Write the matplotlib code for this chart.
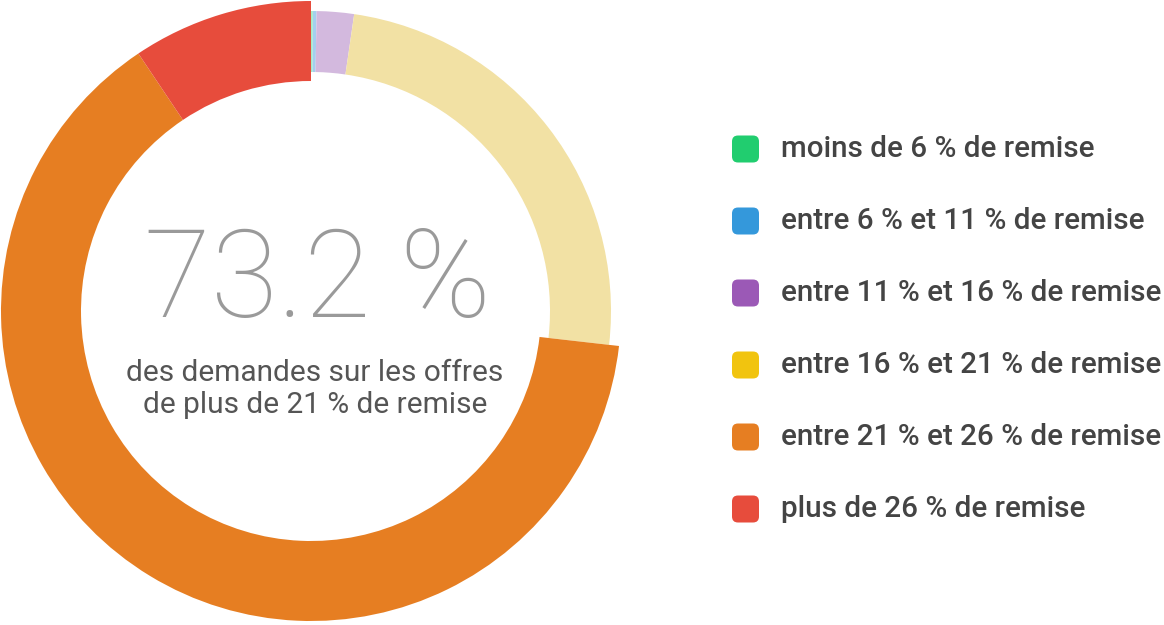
import matplotlib.pyplot as plt
from matplotlib.patches import FancyBboxPatch

labels = ['moins de 6 % de remise', 'entre 6 % et 11 % de remise',
          'entre 11 % et 16 % de remise', 'entre 16 % et 21 % de remise',
          'entre 21 % et 26 % de remise', 'plus de 26 % de remise']
shares = [0.1, 0.2, 2.0, 24.5, 63.8, 9.4]
colors = ['#21cd6f', '#3498db', '#9b59b6', '#f1c40f', '#e67e22', '#e74c3c']
# faded tones used in the ring for the non-highlighted groups
ring_colors = ['#a6ebc5', '#a4d0ee', '#d3b9de', '#f2e1a4', '#e67e22', '#e74c3c']
highlight = [False, False, False, False, True, True]

big_value = '73.2 %'
subtitle = 'des demandes sur les offres\nde plus de 21 % de remise'

fig = plt.figure(figsize=(11.64, 6.25), dpi=100)
ax = fig.add_axes([0, 0, 1, 1])

H = 625
cx, cy = 311, H - 311
wedges, _ = ax.pie(shares, colors=ring_colors, startangle=90, counterclock=False,
                   radius=300, center=(cx, cy), frame=True,
                   wedgeprops=dict(width=61, linewidth=0))
for w, h in zip(wedges, highlight):
    if h:
        w.set_radius(310)
        w.set_width(80)

ax.set_xlim(0, 1164)
ax.set_ylim(0, H)
ax.set_aspect('equal')
ax.axis('off')

ax.text(318, H - 283, big_value, ha='center', va='center', fontsize=88,
        family='Roboto', fontweight=100, color='#9a9a9a')
ax.text(315, H - 389, subtitle, ha='center', va='center', fontsize=21.5,
        family='Roboto', color='#555555', linespacing=1.2)

for i, (lab, c) in enumerate(zip(labels, colors)):
    y = H - (149 + 72 * i)
    ax.add_patch(FancyBboxPatch((732, y - 13.5), 27, 27,
                                boxstyle='round,pad=0,rounding_size=6',
                                facecolor=c, edgecolor='none'))
    ax.text(781, y, lab, ha='left', va='center', fontsize=21.3,
            family='Roboto', fontweight='medium', color='#444444')

fig.savefig('out.png', dpi=100)
